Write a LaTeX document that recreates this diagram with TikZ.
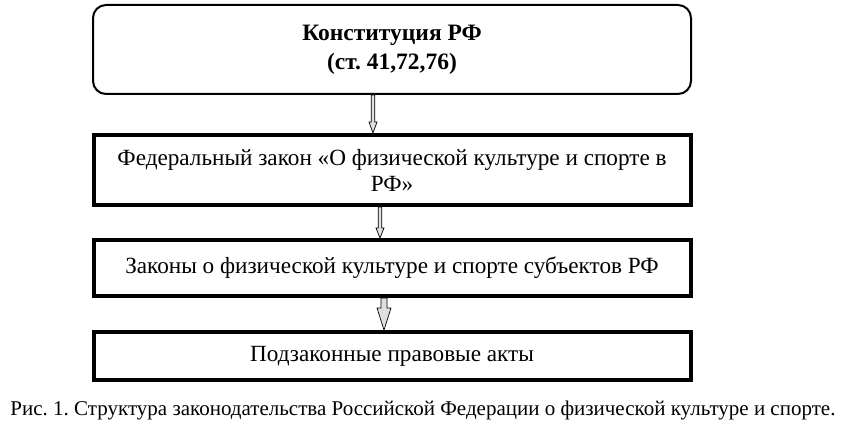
\documentclass[tikz,border=0pt]{standalone}
\usepackage{fontspec}
\setmainfont{Liberation Serif}
\usetikzlibrary{positioning,calc}
\frenchspacing

\begin{document}
\begin{tikzpicture}[
    x=1pt, y=1pt,
    node distance=31pt,
    box/.style={rectangle, draw, line width=4pt, minimum width=597pt, inner sep=0pt, align=center, font=\fontsize{23.2}{26}\selectfont},
    blockarrow/.style n args={3}{draw=black, fill=gray!25, line width=0.7pt,
        to path={let \p1=(\tikztostart), \p2=(\tikztotarget) in
            (\x1-#1,\y1) -- (\x1-#1,\y2+#3) -- (\x1-#2,\y2+#3) -- (\x2,\y2)
            -- (\x1+#2,\y2+#3) -- (\x1+#1,\y2+#3) -- (\x1+#1,\y1) -- cycle}}
]
\useasboundingbox (0,0) rectangle (848,-425);

% Nodes
\node[box, rounded corners=13pt, line width=2pt, minimum width=598pt, minimum height=89pt, font=\bfseries\fontsize{23.5}{29}\selectfont] (konst) at (392,-49.5) {Конституция РФ\\(ст. 41,72,76)};
\node[box, minimum height=70pt, below=38pt of konst] (fedzakon) {Федеральный закон «О физической культуре и спорте в\\РФ»};
\node[box, minimum height=56pt, below=of fedzakon] (subzakon) {Законы о физической культуре и спорте субъектов РФ};
\node[box, minimum height=48pt, below=32pt of subzakon] (akty) {Подзаконные правовые акты};

% Caption
\node[font=\fontsize{21}{24}\selectfont, inner sep=0pt] (caption) at (423,-410) {Рис. 1. Структура законодательства Российской Федерации о физической культуре и спорте.};

% Arrows
\draw[blockarrow={1.8pt}{4pt}{11pt}] ([xshift=-19pt]konst.south) to ([xshift=-19pt]fedzakon.north);
\draw[blockarrow={1.8pt}{4pt}{10pt}] ([xshift=-12pt]fedzakon.south) to ([xshift=-12pt]subzakon.north);
\draw[blockarrow={3pt}{7pt}{22pt}] ([xshift=-8pt]subzakon.south) to ([xshift=-8pt]akty.north);

\end{tikzpicture}
\end{document}
